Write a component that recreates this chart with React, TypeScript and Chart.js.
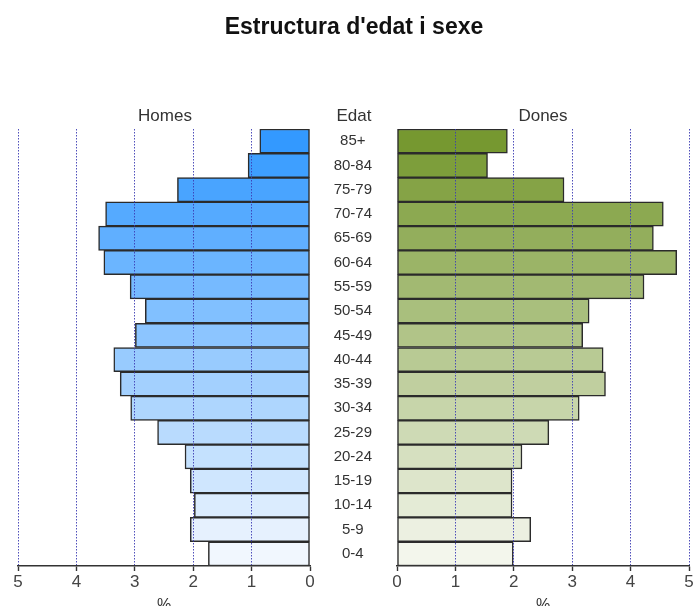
import React, { useEffect, useRef } from 'react';
import { Chart, registerables } from 'chart.js';

Chart.register(...registerables);

// ---- Data ----
const ageGroups = ['85+', '80-84', '75-79', '70-74', '65-69', '60-64', '55-59', '50-54', '45-49', '40-44', '35-39', '30-34', '25-29', '20-24', '15-19', '10-14', '5-9', '0-4'];
const homes = [0.86, 1.06, 2.27, 3.5, 3.62, 3.53, 3.08, 2.82, 2.99, 3.36, 3.25, 3.07, 2.61, 2.14, 2.05, 1.98, 2.05, 1.74];
const dones = [1.89, 1.55, 2.86, 4.56, 4.39, 4.79, 4.23, 3.29, 3.18, 3.53, 3.57, 3.12, 2.6, 2.14, 1.97, 1.97, 2.29, 1.99];
const axisTicks = [0, 1, 2, 3, 4, 5];

const chartTitle = "Estructura d'edat i sexe";
const leftHeading = 'Homes';
const midHeading = 'Edat';
const rightHeading = 'Dones';
const axisTitle = '%';

// ---- Style helpers ----
function gradient(top: number[], bottom: number[], n: number): string[] {
  const out: string[] = [];
  for (let i = 0; i < n; i++) {
    const t = n === 1 ? 0 : i / (n - 1);
    const c = top.map((v, k) => Math.round(v + (bottom[k] - v) * t));
    out.push(`rgb(${c[0]},${c[1]},${c[2]})`);
  }
  return out;
}

const FONT = "'Liberation Sans', Arial, Helvetica, sans-serif";
const gridColor = 'rgba(60,60,180,0.9)';

function xScale(reverse: boolean) {
  return {
    type: 'linear' as const,
    min: 0,
    max: 5,
    reverse,
    afterBuildTicks: (s: any) => {
      s.ticks = axisTicks.map((v) => ({ value: v }));
    },
    afterFit: (s: any) => {
      s.height = 40;
    },
    grid: {
      z: 1,
      color: (ctx: any) => (ctx.tick && ctx.tick.value === 0 ? 'rgba(0,0,0,0)' : gridColor),
      lineWidth: 1,
      drawTicks: true,
      tickLength: 5,
      tickColor: '#333',
      tickWidth: 1.4,
      tickBorderDash: [],
    },
    border: { display: true, color: '#333', width: 1.6, dash: [1.5, 1.5], z: 2 },
    ticks: {
      font: { family: FONT, size: 17 },
      color: '#444',
      padding: 1,
      maxRotation: 0,
      autoSkip: false,
    },
    title: {
      display: true,
      text: axisTitle,
      font: { family: FONT, size: 16 },
      color: '#333',
      padding: { top: 0, bottom: -9 },
    },
  };
}

function PyramidSide(props: {
  side: 'left' | 'right';
  left: number;
  width: number;
}) {
  const ref = useRef<HTMLCanvasElement | null>(null);
  useEffect(() => {
    if (!ref.current) return;
    const isLeft = props.side === 'left';
    const values = isLeft ? homes : dones;
    const colors = isLeft
      ? gradient([51, 153, 255], [241, 247, 254], ageGroups.length)
      : gradient([118, 152, 48], [243, 246, 236], ageGroups.length);
    const chart = new Chart(ref.current, {
      type: 'bar',
      data: {
        labels: ageGroups,
        datasets: [
          {
            data: values,
            backgroundColor: colors,
            borderColor: '#2b2b2b',
            borderWidth: 1.5,
            borderSkipped: false,
            barPercentage: 1,
            categoryPercentage: 1,
          },
        ],
      },
      options: {
        indexAxis: 'y',
        responsive: false,
        maintainAspectRatio: false,
        animation: false,
        layout: {
          padding: isLeft
            ? { left: 18, right: 20, top: 129, bottom: 0 }
            : { left: 0, right: 6, top: 129, bottom: 0 },
        },
        plugins: {
          legend: { display: false },
          tooltip: { enabled: false },
          title: { display: false },
        },
        scales: {
          x: xScale(isLeft) as any,
          y: isLeft
            ? { display: false }
            : {
                display: true,
                afterFit: (s: any) => {
                  s.width = 67;
                },
                grid: { display: false, drawTicks: false, tickLength: 0 },
                border: { display: false },
                ticks: {
                  font: { family: FONT, size: 15 },
                  color: '#333',
                  crossAlign: 'center',
                  padding: 25,
                  autoSkip: false,
                },
              },
        },
      } as any,
    });
    return () => chart.destroy();
  }, []);
  return (
    <canvas
      ref={ref}
      width={props.width}
      height={606}
      style={{ position: 'absolute', left: props.left, top: 0, width: props.width, height: 606 }}
    />
  );
}

const textStyle = (cx: number, cy: number, size: number, bold = false): React.CSSProperties => ({
  position: 'absolute',
  left: cx,
  top: cy - size / 2,
  transform: 'translateX(-50%)',
  fontFamily: FONT,
  fontSize: size,
  lineHeight: `${size}px`,
  fontWeight: bold ? 'bold' : 'normal',
  color: bold ? '#111' : '#333',
  whiteSpace: 'nowrap',
});

export default function App() {
  return (
    <div style={{ position: 'absolute', left: 0, top: 0, width: 695, height: 606, background: '#fff', overflow: 'hidden' }}>
      <PyramidSide side="left" left={0} width={330} />
      <PyramidSide side="right" left={330} width={365} />
      <div style={textStyle(354, 26, 23, true)}>{chartTitle}</div>
      <div style={textStyle(165, 115, 17)}>{leftHeading}</div>
      <div style={textStyle(354, 115, 17)}>{midHeading}</div>
      <div style={textStyle(543, 115, 17)}>{rightHeading}</div>
    </div>
  );
}
